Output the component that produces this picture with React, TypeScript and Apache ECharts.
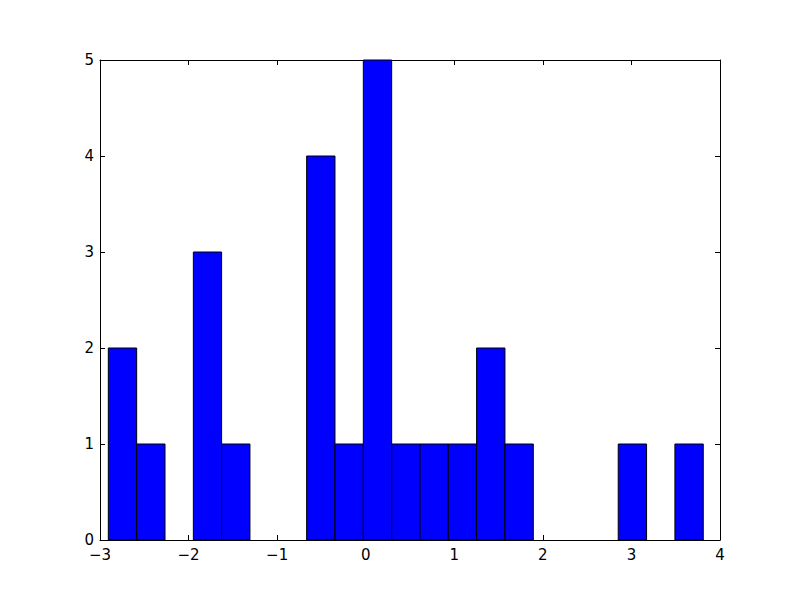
import React, { useEffect, useRef } from "react";
import * as echarts from "echarts";

const binEdges = [
  -2.906, -2.586, -2.266, -1.946, -1.627, -1.307, -0.987, -0.667, -0.347,
  -0.027, 0.293, 0.613, 0.932, 1.252, 1.572, 1.892, 2.212, 2.532, 2.851,
  3.171, 3.491, 3.811,
];
const counts = [2, 1, 0, 3, 1, 0, 0, 4, 1, 5, 1, 1, 1, 2, 1, 0, 0, 0, 1, 0, 1];

const fmt = (v: number) => (v < 0 ? "\u2212" + Math.abs(v) : String(v));

export default function App() {
  const ref = useRef<HTMLDivElement>(null);
  useEffect(() => {
    if (!ref.current) return;
    const chart = echarts.init(ref.current, undefined, { renderer: "svg" });
    const data = counts.map((c, i) => [binEdges[i], binEdges[i + 1], c]);
    const font = { fontFamily: "DejaVu Sans", fontSize: 15, color: "#000" };
    const line = { show: true, onZero: false, lineStyle: { color: "#000", width: 1 } };
    const tick = { show: true, inside: true, length: 5, lineStyle: { color: "#000", width: 1 } };
    chart.setOption({
      animation: false,
      backgroundColor: "#fff",
      grid: { left: 100, right: 80, top: 60, bottom: 60 },
      xAxis: [
        {
          type: "value", min: -3, max: 4, interval: 1, position: "bottom",
          axisLine: line, axisTick: tick, splitLine: { show: false },
          axisLabel: { ...font, lineHeight: 14, margin: 8, formatter: fmt },
        },
        {
          type: "value", min: -3, max: 4, interval: 1, position: "top",
          axisLine: line, axisTick: tick, splitLine: { show: false },
          axisLabel: { show: false },
        },
      ],
      yAxis: [
        {
          type: "value", min: 0, max: 5, interval: 1, position: "left",
          axisLine: line, axisTick: tick, splitLine: { show: false },
          axisLabel: { ...font, lineHeight: 12, margin: 6 },
        },
        {
          type: "value", min: 0, max: 5, interval: 1, position: "right",
          axisLine: line, axisTick: tick, splitLine: { show: false },
          axisLabel: { show: false },
        },
      ],
      series: [
        {
          type: "custom",
          xAxisIndex: 0,
          yAxisIndex: 0,
          data,
          encode: { x: [0, 1], y: 2 },
          renderItem: (params: any, api: any) => {
            const x0 = api.value(0);
            const x1 = api.value(1);
            const c = api.value(2);
            if (!c) return null;
            const p0 = api.coord([x0, c]);
            const p1 = api.coord([x1, 0]);
            return {
              type: "rect",
              shape: { x: p0[0], y: p0[1], width: p1[0] - p0[0], height: p1[1] - p0[1] },
              style: { fill: "#0000ff", stroke: "#000", lineWidth: 1 },
            };
          },
        },
      ],
    });
    return () => chart.dispose();
  }, []);
  return <div ref={ref} style={{ width: 800, height: 600, margin: -8 }} />;
}
